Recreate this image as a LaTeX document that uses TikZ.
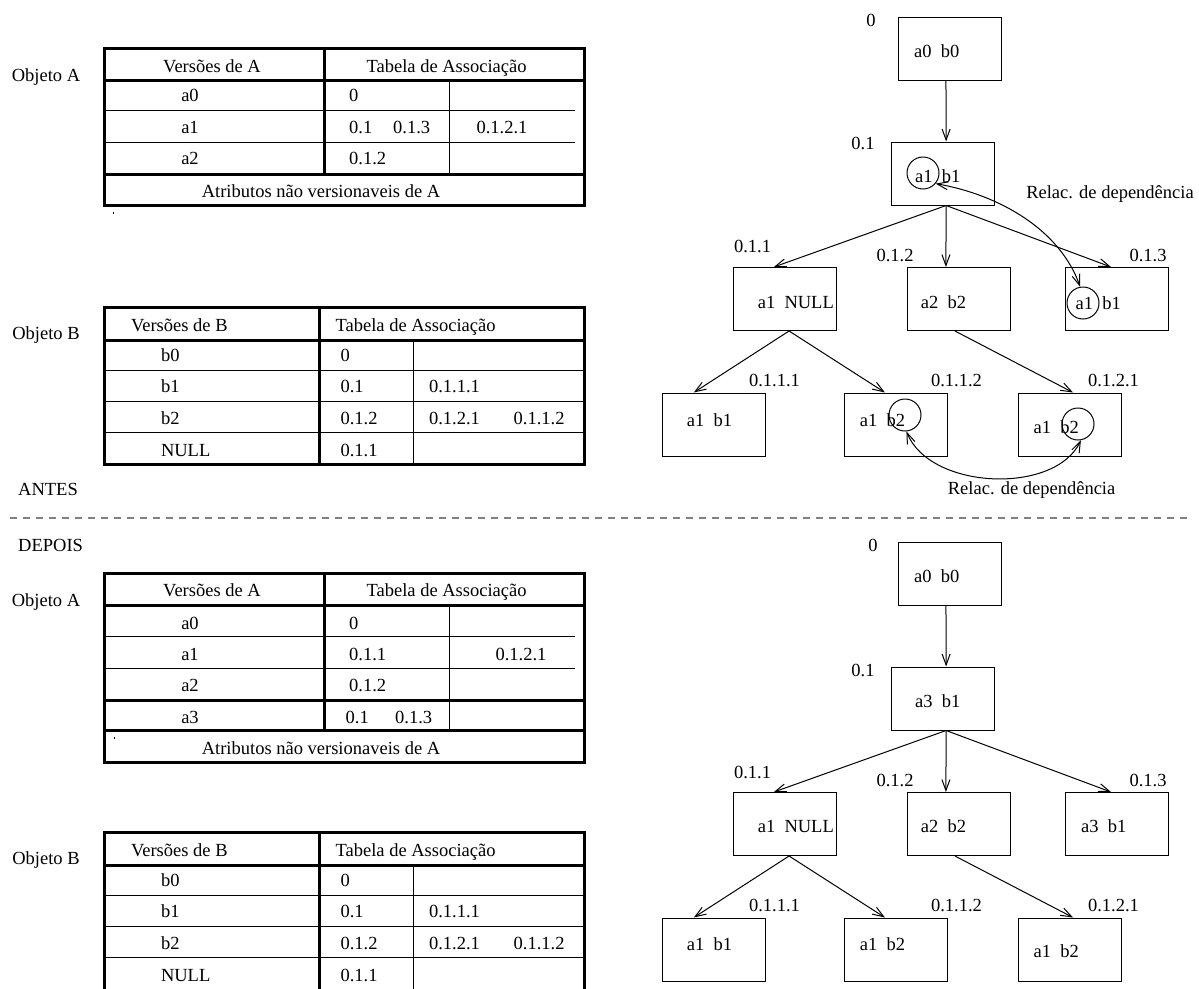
\documentclass[tikz,border=0pt]{standalone}
\usepackage{fontspec}
\setmainfont{Liberation Serif}
\usetikzlibrary{arrows.meta,calc}
\begin{document}
\begin{tikzpicture}[x=1pt,y=-1pt,
  every node/.style={font=\fontsize{18.5}{22}\selectfont, inner sep=0pt, text height=12pt, text depth=0pt},
  thk/.style={line width=3pt},
  thn/.style={line width=1pt},
  tbox/.style={draw, line width=1pt, minimum width=103pt, minimum height=63pt},
  ring/.style={draw, circle, line width=1pt, minimum size=32pt},
  arr/.style={line width=1pt, -{Straight Barb[length=11pt,width=8pt]}},
  dep/.style={line width=1pt, {Straight Barb[length=11pt,width=8pt]}-{Straight Barb[length=11pt,width=8pt]}},
  sep/.style={draw=gray, line width=1.5pt, dash pattern=on 7pt off 6pt}
]
\newcommand\tarr[4]{\draw[arr] ($(#1.south west)!#2!(#1.south east)$) -- ($(#3.north west)!#4!(#3.north east)$);}
\useasboundingbox (0,0) rectangle (1199,988);

% ================= ANTES: table A =================
\draw[thk] (104,48) rectangle (584,205);
\draw[thk] (104,80.7) -- (584,80.7);
\draw[thk] (104,174.3) -- (584,174.3);
\draw[thk] (324.5,48) -- (324.5,174.3);
\draw[thn] (449.7,80.7) -- (449.7,174.3);
\draw[thn] (104,110.7) -- (574.5,110.7);
\draw[thn] (104,142.3) -- (574.5,142.3);
\fill (112.5,211.5) rectangle (113.5,214);
\node (oA1) at (46,75) {Objeto A};
\node (hA1) at (212,66.7) {Versões de A};
\node (hT1) at (446.6,66.7) {Tabela de Associação};
\node (ra01) at (190,95) {a0};
\node[anchor=west] (ra01x) at (349,95) {0};
\node (ra11) at (190,127.3) {a1};
\node[anchor=west] (ra11x) at (349,127.3) {0.1};
\node[anchor=west] (ra11y) at (393,127.3) {0.1.3};
\node (ra11z) at (502,127.3) {0.1.2.1};
\node (ra21) at (190,158.3) {a2};
\node[anchor=west] (ra21x) at (349,158.3) {0.1.2};
\node (atr1) at (321,191.7) {Atributos não versionaveis de A};

% ================= ANTES: table B =================
\draw[thk] (104,307.3) rectangle (584,464);
\draw[thk] (104,340) -- (584,340);
\draw[thk] (319.2,307.3) -- (319.2,464);
\draw[thn] (413.5,340) -- (413.5,464);
\draw[thn] (104,370) -- (584,370);
\draw[thn] (104,401.7) -- (584,401.7);
\draw[thn] (104,432.7) -- (584,432.7);
\node (oB1) at (46,333.3) {Objeto B};
\node[anchor=west] (hB1) at (130.8,325) {Versões de B};
\node[anchor=west] (hTB1) at (335.4,325) {Tabela de Associação};
\node[anchor=west] (rb01) at (160.8,355) {b0};
\node[anchor=west] (rb01x) at (340.4,355) {0};
\node[anchor=west] (rb11) at (160.8,386.7) {b1};
\node[anchor=west] (rb11x) at (340.4,386.7) {0.1};
\node[anchor=west] (rb11y) at (428.8,386.7) {0.1.1.1};
\node[anchor=west] (rb21) at (160.8,418.3) {b2};
\node[anchor=west] (rb21x) at (340.4,418.3) {0.1.2};
\node[anchor=west] (rb21y) at (428.8,418.3) {0.1.2.1};
\node[anchor=west] (rb21z) at (513.5,418.3) {0.1.1.2};
\node[anchor=west] (rbn1) at (160.8,450) {NULL};
\node[anchor=west] (rbn1x) at (340.4,450) {0.1.1};

\node[anchor=west] (antes) at (18,489) {ANTES};
\coordinate (sepL) at (10,518);
\coordinate (sepR) at (1190,518);
\draw[sep] (sepL) -- (sepR);
\node[anchor=west] (depois) at (18,545) {DEPOIS};

% ================= DEPOIS: table A =================
\draw[thk] (104,573.3) rectangle (584,762.7);
\draw[thk] (104,605) -- (584,605);
\draw[thk] (104,700) -- (584,700);
\draw[thk] (104,730) -- (584,730);
\draw[thk] (324.5,573.3) -- (324.5,730);
\draw[thn] (449.7,605) -- (449.7,730);
\draw[thn] (104,636) -- (574.5,636);
\draw[thn] (104,668.3) -- (574.5,668.3);
\fill (113.5,736.5) rectangle (114.5,739);
\node (oA2) at (46,600) {Objeto A};
\node (hA2) at (212,590.7) {Versões de A};
\node (hT2) at (446.6,590.7) {Tabela de Associação};
\node (ra02) at (190,623.3) {a0};
\node[anchor=west] (ra02x) at (349,623.3) {0};
\node (ra12) at (190,654) {a1};
\node[anchor=west] (ra12x) at (349,654) {0.1.1};
\node (ra12z) at (521,654) {0.1.2.1};
\node (ra22) at (190,685.7) {a2};
\node[anchor=west] (ra22x) at (349,685.7) {0.1.2};
\node (ra32) at (190,717.3) {a3};
\node[anchor=west] (ra32x) at (345.5,717.3) {0.1};
\node[anchor=west] (ra32y) at (395,717.3) {0.1.3};
\node (atr2) at (321,748.3) {Atributos não versionaveis de A};

% ================= DEPOIS: table B =================
\draw[thk] (104,832.3) rectangle (584,991);
\draw[thk] (104,865) -- (584,865);
\draw[thk] (319.2,832.3) -- (319.2,991);
\draw[thn] (413.5,865) -- (413.5,991);
\draw[thn] (104,895) -- (584,895);
\draw[thn] (104,926.7) -- (584,926.7);
\draw[thn] (104,957.7) -- (584,957.7);
\node (oB2) at (46,858.3) {Objeto B};
\node[anchor=west] (hB2) at (130.8,850) {Versões de B};
\node[anchor=west] (hTB2) at (335.4,850) {Tabela de Associação};
\node[anchor=west] (rb02) at (160.8,880) {b0};
\node[anchor=west] (rb02x) at (340.4,880) {0};
\node[anchor=west] (rb12) at (160.8,911.7) {b1};
\node[anchor=west] (rb12x) at (340.4,911.7) {0.1};
\node[anchor=west] (rb12y) at (428.8,911.7) {0.1.1.1};
\node[anchor=west] (rb22) at (160.8,943.3) {b2};
\node[anchor=west] (rb22x) at (340.4,943.3) {0.1.2};
\node[anchor=west] (rb22y) at (428.8,943.3) {0.1.2.1};
\node[anchor=west] (rb22z) at (513.5,943.3) {0.1.1.2};
\node[anchor=west] (rbn2) at (160.8,975) {NULL};
\node[anchor=west] (rbn2x) at (340.4,975) {0.1.1};

% ================= ANTES: tree =================
\node[tbox] (P0) at (949.5,48.5) {};
\node[tbox] (P01) at (943,173.5) {};
\node[tbox] (P011) at (785,299) {};
\node[tbox] (P012) at (959,299) {};
\node[tbox] (P013) at (1116.5,299) {};
\node[tbox] (P0111) at (714,424.5) {};
\node[tbox] (P0112) at (895.5,424.5) {};
\node[tbox] (P0121) at (1069.5,424.5) {};
\node[anchor=west] (pt0) at (914,51) {a0\ \ b0};
\node[anchor=west] (pt01) at (915,176.7) {a1\ \ b1};
\node[anchor=west] (pt011) at (757.6,302.3) {a1\ \ NULL};
\node[anchor=west] (pt012) at (920.6,302) {a2\ \ b2};
\node[anchor=west] (pt013) at (1075.5,303) {a1\ \ b1};
\node[anchor=west] (pt0111) at (686.6,420) {a1\ \ b1};
\node[anchor=west] (pt0112) at (859.7,420) {a1\ \ b2};
\node[anchor=west] (pt0121) at (1033.5,427.3) {a1\ \ b2};
\node (pl0) at (871,20) {0};
\node (pl01) at (863,143.6) {0.1};
\node (pl011) at (752.5,246.7) {0.1.1};
\node (pl012) at (895,255) {0.1.2};
\node (pl013) at (1148,255) {0.1.3};
\node (pl0111) at (774.5,380) {0.1.1.1};
\node (pl0112) at (956.5,380) {0.1.1.2};
\node (pl0121) at (1113.5,380) {0.1.2.1};
\tarr{P0}{0.466}{P01}{0.53}
\tarr{P01}{0.53}{P011}{0.393}
\tarr{P01}{0.53}{P012}{0.374}
\tarr{P01}{0.53}{P013}{0.447}
\tarr{P011}{0.539}{P0111}{0.306}
\tarr{P011}{0.539}{P0112}{0.398}
\tarr{P012}{0.461}{P0121}{0.534}
\node[ring] (C1) at (923,173) {};
\node[ring] (C2) at (1083,303) {};
\node[ring] (C3) at (905,415) {};
\node[ring] (C4) at (1078,424) {};
\draw[dep] (C1.-40) .. controls (1000,195) and (1060,230) .. (C2.100);
\draw[dep] (C3.-85) .. controls (930,490) and (1055,495) .. (C4.-80);
\node (rel1) at (1110,192.7) {Relac. de dependência};
\node (rel2) at (1031.6,488.3) {Relac. de dependência};

% ================= DEPOIS: tree =================
\node[tbox] (Q0) at (949.5,573.5) {};
\node[tbox] (Q01) at (943,698.5) {};
\node[tbox] (Q011) at (785,824) {};
\node[tbox] (Q012) at (959,824) {};
\node[tbox] (Q013) at (1116.5,824) {};
\node[tbox] (Q0111) at (714,949.5) {};
\node[tbox] (Q0112) at (895.5,949.5) {};
\node[tbox] (Q0121) at (1069.5,949.5) {};
\node[anchor=west] (qt0) at (914,576) {a0\ \ b0};
\node[anchor=west] (qt01) at (915,701.7) {a3\ \ b1};
\node[anchor=west] (qt011) at (757.6,826.7) {a1\ \ NULL};
\node[anchor=west] (qt012) at (920.6,826.7) {a2\ \ b2};
\node[anchor=west] (qt013) at (1081,826.7) {a3\ \ b1};
\node[anchor=west] (qt0111) at (686.6,944) {a1\ \ b1};
\node[anchor=west] (qt0112) at (859.7,944) {a1\ \ b2};
\node[anchor=west] (qt0121) at (1033.5,951.7) {a1\ \ b2};
\node (ql0) at (873,545) {0};
\node (ql01) at (863,670) {0.1};
\node (ql011) at (752.5,772.7) {0.1.1};
\node (ql012) at (895,780) {0.1.2};
\node (ql013) at (1148,780) {0.1.3};
\node (ql0111) at (774.5,905) {0.1.1.1};
\node (ql0112) at (956.5,905) {0.1.1.2};
\node (ql0121) at (1113.5,905) {0.1.2.1};
\tarr{Q0}{0.466}{Q01}{0.53}
\tarr{Q01}{0.53}{Q011}{0.393}
\tarr{Q01}{0.53}{Q012}{0.374}
\tarr{Q01}{0.53}{Q013}{0.447}
\tarr{Q011}{0.539}{Q0111}{0.306}
\tarr{Q011}{0.539}{Q0112}{0.398}
\tarr{Q012}{0.461}{Q0121}{0.534}
\end{tikzpicture}
\end{document}
